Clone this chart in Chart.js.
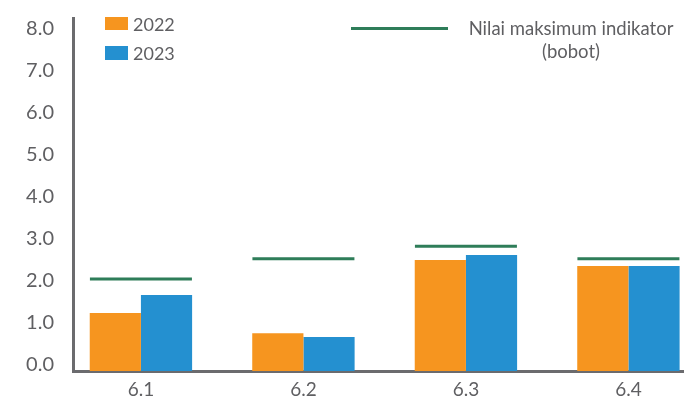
<!DOCTYPE html>
<html>
<head>
<meta charset="utf-8">
<script src="https://cdn.jsdelivr.net/npm/chart.js@4/dist/chart.umd.min.js"></script>
<style>
  html, body { margin: 0; padding: 0; background: #ffffff; }
  #wrap { position: relative; width: 684px; height: 399px; font-family: Lato, "Open Sans", sans-serif; color: #5F5F62; }
  #wrap canvas { position: absolute; left: 0; top: 0; }
  .swatch { position: absolute; width: 23px; height: 13px; }
  .ktext { position: absolute; font-size: 18px; line-height: 20px; white-space: nowrap; }
  .kline { position: absolute; height: 3px; }
  .kblock { position: absolute; font-size: 18.5px; line-height: 23px; text-align: center; white-space: nowrap; }
</style>
</head>
<body>
<div id="wrap">
  <canvas id="chart" width="684" height="399"></canvas>
  <div class="swatch" id="sw2022" style="left:105px; top:17px;"></div>
  <div class="ktext" id="lb2022" style="left:133px; top:14px;"></div>
  <div class="swatch" id="sw2023" style="left:105px; top:46px; height:14px;"></div>
  <div class="ktext" id="lb2023" style="left:133px; top:43px;"></div>
  <div class="kline" id="swMax" style="left:351px; top:27px; width:97px;"></div>
  <div class="kblock" id="lbMax" style="left:458px; top:17px; width:226px;"></div>
</div>
<script>
// Indicator groups on the horizontal axis
const categories = ['6.1', '6.2', '6.3', '6.4'];
// Scores per indicator
const values2022 = [1.38, 0.90, 2.64, 2.50];
const values2023 = [1.81, 0.81, 2.76, 2.50];
// Maximum attainable value of each indicator (its weight)
const maxWeight = [2.19, 2.67, 2.97, 2.67];
// Vertical axis tick values
const yTicks = [0, 1, 2, 3, 4, 5, 6, 7, 8];

const seriesNames = ['2022', '2023', 'Nilai maksimum indikator (bobot)'];
const colors = { y2022: '#F6951F', y2023: '#2490D0', max: '#2E7D59', axis: '#6B6B6E', text: '#5F5F62' };

// Legend (HTML)
document.getElementById('sw2022').style.background = colors.y2022;
document.getElementById('sw2023').style.background = colors.y2023;
document.getElementById('swMax').style.background = colors.max;
document.getElementById('lb2022').textContent = seriesNames[0];
document.getElementById('lb2023').textContent = seriesNames[1];
document.getElementById('lbMax').innerHTML = 'Nilai maksimum indikator<br>(bobot)';

const pts = arr => arr.map((v, i) => ({ x: i, y: v }));

// Keep tick-label overhang from shrinking the plot area
const noEdgePadding = s => { s.paddingTop = 0; s.paddingBottom = 0; s.paddingLeft = 0; s.paddingRight = 0; };

new Chart(document.getElementById('chart'), {
  type: 'bar',
  data: {
    datasets: [
      {
        type: 'line',
        label: seriesNames[2],
        data: pts(maxWeight),
        showLine: false,
        pointStyle: 'line',
        pointRadius: 51,
        pointHoverRadius: 51,
        pointBorderWidth: 3,
        pointHoverBorderWidth: 3,
        borderColor: colors.max,
        backgroundColor: colors.max,
        clip: false,
        order: 0
      },
      {
        label: seriesNames[0],
        data: pts(values2022),
        backgroundColor: colors.y2022,
        categoryPercentage: 0.63,
        barPercentage: 1.0,
        order: 1
      },
      {
        label: seriesNames[1],
        data: pts(values2023),
        backgroundColor: colors.y2023,
        categoryPercentage: 0.63,
        barPercentage: 1.0,
        order: 1
      }
    ]
  },
  options: {
    responsive: false,
    animation: false,
    events: [],
    layout: { autoPadding: false, padding: { top: 18, right: 0, left: 0, bottom: 0 } },
    plugins: { legend: { display: false }, tooltip: { enabled: false } },
    scales: {
      x: {
        type: 'linear',
        offset: false,
        min: -0.418,
        max: 3.342,
        grid: { display: false, drawTicks: false },
        border: { display: true, color: colors.axis, width: 3 },
        afterBuildTicks: s => { s.ticks = categories.map((c, i) => ({ value: i })); },
        afterFit: s => { s.height = 28; noEdgePadding(s); },
        ticks: {
          padding: 7,
          color: colors.text,
          font: { family: 'Lato', size: 19 },
          callback: v => categories[v]
        }
      },
      y: {
        min: 0,
        max: 8.4,
        grid: { display: false, drawTicks: false },
        border: { display: true, color: colors.axis, width: 3 },
        afterBuildTicks: s => { s.ticks = yTicks.map(v => ({ value: v })); },
        afterFit: s => { s.width = 73; noEdgePadding(s); },
        ticks: {
          padding: 19,
          labelOffset: -6,
          color: colors.text,
          font: { family: 'Lato', size: 20 },
          callback: v => Number(v).toFixed(1)
        }
      }
    }
  }
});
</script>
</body>
</html>
